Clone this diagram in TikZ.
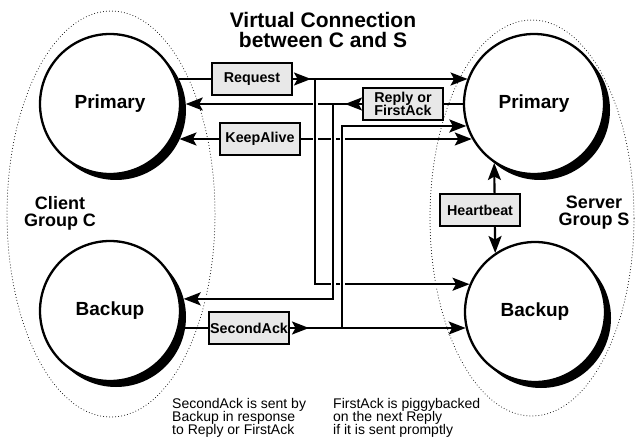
\documentclass[tikz,border=0pt]{standalone}
\usepackage{fontspec}
\setmainfont{Liberation Sans}
\usetikzlibrary{arrows.meta}
\lineskiplimit=-100pt
\begin{document}
\begin{tikzpicture}[x=1pt,y=-1pt,
  wire/.style={line width=2.1pt},
  arr/.style={-{Stealth[length=17pt,width=13pt,inset=3.5pt]}},
  arrs/.style={{Stealth[length=17pt,width=13pt,inset=3.5pt]}-{Stealth[length=17pt,width=13pt,inset=3.5pt]}},
  over/.style={preaction={draw=white,line width=5pt,-,shorten <=3pt,shorten >=3pt}},
  proc/.style={circle,draw,fill=white,line width=2.3pt,minimum size=140pt,inner sep=0pt,font=\fontsize{19}{22}\selectfont\bfseries},
  shade/.style={circle,fill=black,minimum size=140pt,inner sep=0pt,outer sep=0pt},
  msg/.style={draw,fill=gray!18,line width=1.2pt,minimum width=80pt,minimum height=32pt,inner sep=0pt,align=center,font=\fontsize{14.3}{13.5}\selectfont\bfseries},
  group/.style={dash pattern=on 0pt off 3pt,line cap=round,line width=1pt},
  grptext/.style={align=center,font=\fontsize{18}{17}\selectfont\bfseries},
  note/.style={align=left,anchor=north west,inner sep=0pt,font=\fontsize{14}{13}\selectfont}]
\useasboundingbox (0,0) rectangle (636,443);
\draw[group] (111,214) ellipse [x radius=104pt,y radius=203pt];
\draw[group] (532,218) ellipse [x radius=102pt,y radius=198pt];
\node[grptext,font=\fontsize{21}{19.5}\selectfont\bfseries] (title) at (323,30) {Virtual Connection\\between C and S};
\node[grptext] (cgrp) at (60,213) {Client\\Group C};
\node[grptext] (sgrp) at (594,213) {Server\\Group S};
\node[shade] (cps) at (116,110) {};
\node[proc] (cp) at (110,104) {Primary};
\node[shade] (cbs) at (116,317) {};
\node[proc] (cb) at (110,311) {Backup};
\node[shade] (sps) at (540,110) {};
\node[proc] (sp) at (534,104) {Primary};
\node[shade] (sbs) at (541,318) {};
\node[proc] (sb) at (535,312) {Backup};
\coordinate (j1) at (315,79);
\coordinate (j2) at (333,104);
\coordinate (j3) at (342,328);
\coordinate (rqtip) at (311,79);
\coordinate (rptip) at (345,104);
\coordinate (satip) at (309,328);
\node[msg] (req) at (252,79) {Request};
\node[msg] (rep) at (403,104) {Reply or\\FirstAck};
\node[msg] (keep) at (260,139) {KeepAlive};
\node[msg] (sack) at (249,328) {SecondAck};
\draw[wire] (req.west -| cps.26) -- (req.west);
\draw[wire,arr] (req.east) -- (rqtip);
\draw[wire,arr] (req.east) -- (req.east -| sp.159.4);
\draw[wire] (sp.west) -- (rep.east);
\draw[wire,arr] (rep.west) -- (rptip);
\draw[wire,arr] (rep.west) -- (rep.west -| cps.5);
\draw[wire,arr] (keep.west) -- (keep.west -| cps.335.5);
\draw[wire,arr] (keep.east) -- (keep.east -| sp.209.5);
\draw[wire] (sack.west -| cbs.351) -- (sack.west);
\draw[wire,arr] (sack.east) -- (satip);
\draw[wire,arr] (sack.east) -- (sack.east -| sb.193);
\draw[wire,arr,over] (j1) |- (sb.157.6);
\draw[wire,arr,over] (j2) |- (cbs.15);
\draw[wire,arr,over] (j3) |- (sp.198);
\node[msg] at (252,79) {Request};
\node[msg] at (403,104) {Reply or\\FirstAck};
\node[msg] at (260,139) {KeepAlive};
\node[msg] at (249,328) {SecondAck};
\draw[wire,arrs] (sp.236.7) -- (sb.124.3);
\node[msg] (hb) at (480,210) {Heartbeat};
\node[note] (n1) at (172,398) {SecondAck is sent by\\Backup in response\\to Reply or FirstAck};
\node[note] (n2) at (333,398) {FirstAck is piggybacked\\on the next Reply\\if it is sent promptly};
\end{tikzpicture}
\end{document}
